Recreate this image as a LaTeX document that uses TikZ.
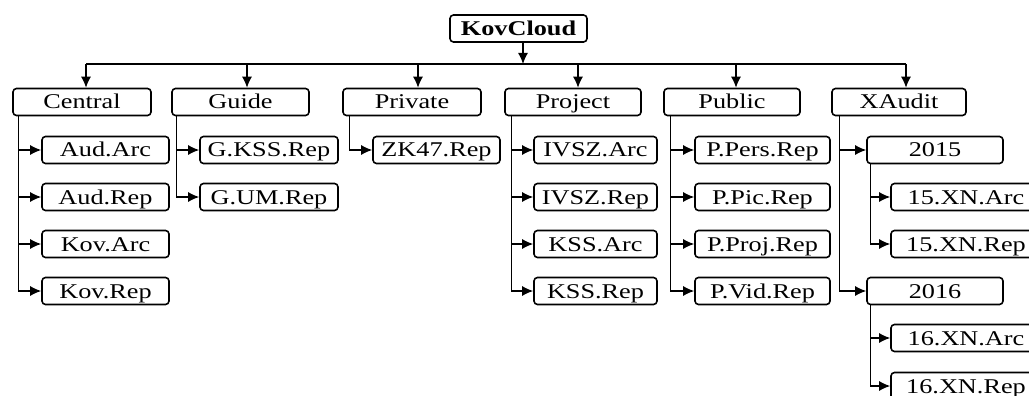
\documentclass[tikz,border=0pt]{standalone}
\usepackage{fontspec}
\setmainfont[FakeStretch=1.25]{Liberation Serif}
\usetikzlibrary{arrows.meta}
\begin{document}
\begin{tikzpicture}[x=1pt,y=-1pt,
  box/.style={draw, rounded corners=3.5pt, line width=1.6pt, inner sep=0pt,
    minimum height=27pt, text height=14pt, text depth=0pt,
    font=\fontsize{21}{25}\selectfont},
  arr/.style={line width=1.3pt, -{Latex[length=11pt,width=10pt]}},
  conn/.style={line width=1.3pt}]
\useasboundingbox (0,0) rectangle (1029,396);
\clip (0,0) rectangle (1029,396);
% root
\node[box, minimum width=137pt, font=\fontsize{21}{25}\selectfont\bfseries] (root) at (518.5,28.5) {KovCloud};
% categories
\node[box, minimum width=138pt] (central) at (82,102) {Central};
\node[box, minimum width=137pt] (guide) at (240.5,102) {Guide};
\node[box, minimum width=138pt] (private) at (412,102) {Private};
\node[box, minimum width=136pt] (project) at (573,102) {Project};
\node[box, minimum width=136pt] (public) at (732,102) {Public};
\node[box, minimum width=134pt] (xaudit) at (899,102) {XAudit};
% children
\node[box, minimum width=127pt] (audarc) at (105.5,150) {Aud.Arc};
\node[box, minimum width=127pt] (audrep) at (105.5,197) {Aud.Rep};
\node[box, minimum width=127pt] (kovarc) at (105.5,244) {Kov.Arc};
\node[box, minimum width=127pt] (kovrep) at (105.5,291) {Kov.Rep};
\node[box, minimum width=138pt] (gkss) at (269,150) {G.KSS.Rep};
\node[box, minimum width=138pt] (gum) at (269,197) {G.UM.Rep};
\node[box, minimum width=127pt] (zk) at (436.5,150) {ZK47.Rep};
\node[box, minimum width=123pt] (ivszarc) at (595.5,150) {IVSZ.Arc};
\node[box, minimum width=123pt] (ivszrep) at (595.5,197) {IVSZ.Rep};
\node[box, minimum width=123pt] (kssarc) at (595.5,244) {KSS.Arc};
\node[box, minimum width=123pt] (kssrep) at (595.5,291) {KSS.Rep};
\node[box, minimum width=135pt] (ppers) at (762.5,150) {P.Pers.Rep};
\node[box, minimum width=135pt] (ppic) at (762.5,197) {P.Pic.Rep};
\node[box, minimum width=135pt] (pproj) at (762.5,244) {P.Proj.Rep};
\node[box, minimum width=135pt] (pvid) at (762.5,291) {P.Vid.Rep};
\node[box, minimum width=136pt] (y15) at (935,150) {2015};
\node[box, minimum width=136pt] (y16) at (935,291) {2016};
\node[box, minimum width=150pt] (xa15) at (966,197) {15.XN.Arc};
\node[box, minimum width=150pt] (xr15) at (966,244) {15.XN.Rep};
\node[box, minimum width=150pt] (xa16) at (966,338) {16.XN.Arc};
\node[box, minimum width=150pt] (xr16) at (966,386) {16.XN.Rep};
% top bus
\coordinate (bus) at (0,64);
\coordinate (ra) at ([xshift=4.5pt]root.south);
\draw[arr] (ra) -- (ra |- bus);
\coordinate (ca) at ([xshift=4pt]central.north);
\coordinate (ga) at ([xshift=6.5pt]guide.north);
\coordinate (pa) at ([xshift=6pt]private.north);
\coordinate (ja) at ([xshift=5pt]project.north);
\coordinate (ua) at ([xshift=4pt]public.north);
\coordinate (xa) at ([xshift=7pt]xaudit.north);
\draw[conn] (ca |- bus) -- (xa |- bus);
\foreach \c in {ca,ga,pa,ja,ua,xa} \draw[arr] (\c |- bus) -- (\c);
% trunks
\coordinate (t1) at ([xshift=6pt]central.south west);
\draw[arr] (t1) |- (kovrep.west);
\foreach \n in {audarc,audrep,kovarc} \draw[arr] (t1 |- \n.west) -- (\n.west);
\coordinate (t2) at ([xshift=5pt]guide.south west);
\draw[arr] (t2) |- (gum.west);
\draw[arr] (t2 |- gkss.west) -- (gkss.west);
\coordinate (t3) at ([xshift=7pt]private.south west);
\draw[arr] (t3) |- (zk.west);
\coordinate (t4) at ([xshift=7pt]project.south west);
\draw[arr] (t4) |- (kssrep.west);
\foreach \n in {ivszarc,ivszrep,kssarc} \draw[arr] (t4 |- \n.west) -- (\n.west);
\coordinate (t5) at ([xshift=7pt]public.south west);
\draw[arr] (t5) |- (pvid.west);
\foreach \n in {ppers,ppic,pproj} \draw[arr] (t5 |- \n.west) -- (\n.west);
\coordinate (t6) at ([xshift=8pt]xaudit.south west);
\draw[arr] (t6) |- (y16.west);
\draw[arr] (t6 |- y15.west) -- (y15.west);
\coordinate (t7) at ([xshift=4pt]y15.south west);
\draw[arr] (t7) |- (xr15.west);
\draw[arr] (t7 |- xa15.west) -- (xa15.west);
\coordinate (t8) at ([xshift=4pt]y16.south west);
\draw[arr] (t8) |- (xr16.west);
\draw[arr] (t8 |- xa16.west) -- (xa16.west);
\end{tikzpicture}
\end{document}
